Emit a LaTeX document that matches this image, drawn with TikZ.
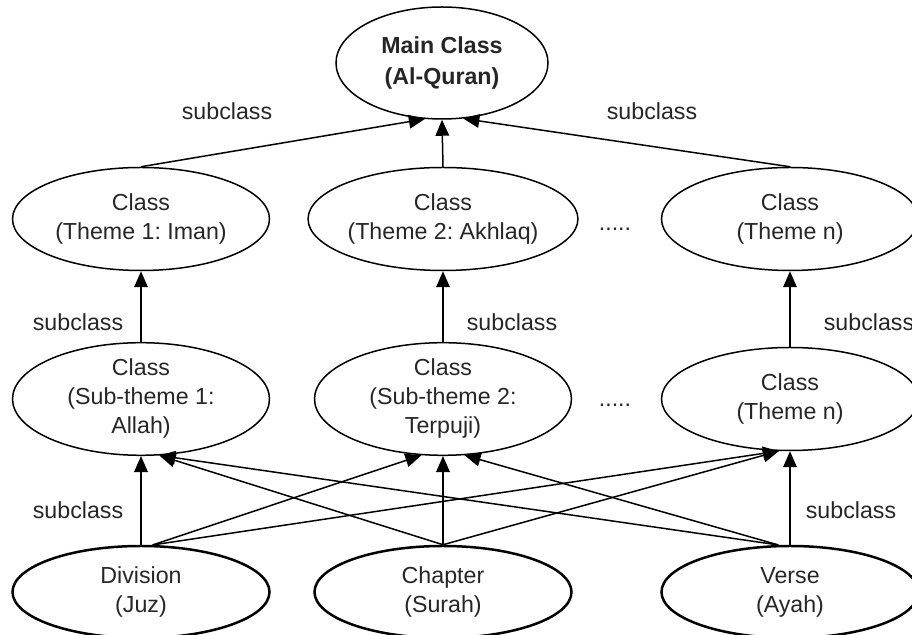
\documentclass[tikz,border=0pt]{standalone}
\usepackage{fontspec}
\setmainfont{Liberation Sans}
\frenchspacing
\usetikzlibrary{shapes.geometric,arrows.meta,calc}
\begin{document}
\begin{tikzpicture}[x=0.5pt,y=-0.5pt,
  every node/.style={font=\fontsize{11.6}{14.5}\selectfont,text=black!85},
  cls/.style={ellipse,draw,line width=0.75pt,inner sep=0pt,minimum width=128.5pt,minimum height=51.5pt,align=center},
  leaf/.style={cls,line width=1.25pt,minimum height=46pt},
  arr/.style={-{Triangle[length=8pt,width=6.8pt]},line width=0.75pt},
  lbl/.style={inner sep=0pt},
  dots/.style={inner sep=0pt}]
\useasboundingbox (0,0) rectangle (912,635);
% top
\node[cls,minimum width=106pt,minimum height=56pt,font=\bfseries\fontsize{11.6}{15.5}\selectfont] (main) at (442,63) {Main Class\\(Al-Quran)};
% themes
\node[cls] (th1) at (141,219) {Class\\(Theme 1: Iman)};
\node[cls] (th2) at (443,219) {Class\\(Theme 2: Akhlaq)};
\node[cls] (thn) at (790,219) {Class\\(Theme n)};
% sub-themes
\node[cls] (st1) at (141,399) {Class\\(Sub-theme 1:\\Allah)};
\node[cls] (st2) at (443,399) {Class\\(Sub-theme 2:\\Terpuji)};
\node[cls] (stn) at (790,399) {Class\\(Theme n)};
% leaves
\node[leaf] (div) at (141,592) {Division\\(Juz)};
\node[leaf] (chap) at (443,592) {Chapter\\(Surah)};
\node[leaf] (verse) at (790,592) {Verse\\(Ayah)};
% dots
\node[dots] (d1) at (615,229) {.....};
\node[dots] (d2) at (615,405) {.....};
% labels
\node[lbl] (l1) at (227,111) {subclass};
\node[lbl] (l2) at (652,111) {subclass};
\node[lbl] (l3) at (78,322) {subclass};
\node[lbl] (l4) at (512,322) {subclass};
\node[lbl] (l5) at (869,322) {subclass};
\node[lbl] (l6) at (78,510) {subclass};
\node[lbl] (l7) at (851,510) {subclass};
% arrows to main
\draw[arr] (th1.north) -- (main.-107);
\draw[arr] (th2.north) -- (main.south);
\draw[arr] (thn.north) -- (main.-69);
% arrows to themes
\draw[arr] (st1.north) -- (th1.south);
\draw[arr] (st2.north) -- (th2.south);
\draw[arr] (stn.north) -- (thn.south);
% arrows from leaves
\draw[arr] (div.north) -- (st1.south);
\draw[arr] (div.76) -- (st2.-111.6);
\draw[arr] (div.76) -- (stn.-102);
\draw[arr] (chap.north) -- (st1.-72);
\draw[arr] (chap.north) -- (st2.south);
\draw[arr] (chap.north) -- (stn.-102);
\draw[arr] (verse.104) -- (st1.-72);
\draw[arr] (verse.104) -- (st2.-69);
\draw[arr] (verse.north) -- (stn.south);
\end{tikzpicture}
\end{document}
